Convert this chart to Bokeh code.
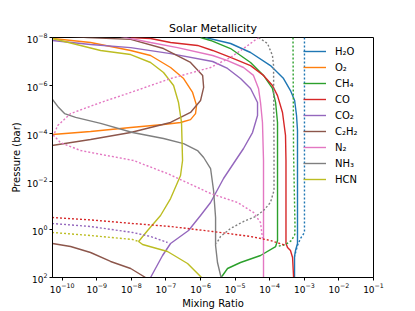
from bokeh.plotting import figure
from bokeh.models import Range1d, FixedTicker, Legend, LegendItem
from bokeh.embed import file_html
from bokeh.resources import INLINE

nan = float("nan")

species = ["H\u2082O", "O\u2082", "CH\u2084", "CO", "CO\u2082", "C\u2082H\u2082", "N\u2082", "NH\u2083", "HCN"]
colors = ["#1f77b4", "#ff7f0e", "#2ca02c", "#d62728", "#9467bd", "#8c564b", "#e377c2", "#7f7f7f", "#bcbd22"]

x_ticks = [1e-10, 1e-9, 1e-8, 1e-7, 1e-6, 1e-5, 1e-4, 1e-3, 1e-2, 1e-1]
y_ticks = [1e-8, 1e-6, 1e-4, 1e-2, 1e0, 1e2]

# ---- solid profiles (mixing ratio, pressure in bar) ----
h2o_x = [1.38e-6, 7.4e-6, 2.79e-5, 1.05e-4, 2.51e-4, 3.98e-4, 5.25e-4, 5.96e-4, 6.35e-4, 6.35e-4, 5.57e-4, 5.21e-4, 5.21e-4]
h2o_p = [1e-8, 1.78e-8, 4.22e-8, 1.48e-7, 5.13e-7, 1.62e-6, 4.22e-6, 1.78e-5, 7.5e-5, 3.83, 7.5, 13.3, 100]

o2_x = [3e-11, 5.25e-11, 6.61e-10, 9.55e-9, 3.59e-8, 1.36e-7, 3.24e-7, 5.89e-7, 7.66e-7, 7.16e-7, 5.13e-7, 2.64e-7, 8.51e-8, 9.55e-9, 6.61e-10, 5.25e-11, 3e-11]
o2_p = [1e-8, 1.10e-8, 1.62e-8, 3.47e-8, 5.62e-8, 1.78e-7, 5.13e-7, 1.95e-6, 6.76e-6, 1.48e-5, 2.63e-5, 3.47e-5, 4.22e-5, 5.62e-5, 8.26e-5, 1.10e-4, 1.17e-4]

ch4_x = [1.0e-6, 1.95e-6, 7.36e-6, 2.79e-5, 6.61e-5, 1.20e-4, 1.48e-4, 1.68e-4, 1.68e-4, 1.48e-4, 5.42e-5, 1.43e-5, 6.03e-6, 4.33e-6, 3.80e-6]
ch4_p = [1e-8, 1.33e-8, 2.88e-8, 1.10e-7, 3.80e-7, 1.33e-6, 5.13e-6, 3.47e-5, 2.87, 5.13, 12.1, 23.7, 42.2, 82.6, 100]

co_x = [9.55e-9, 3.59e-8, 1.36e-7, 8.18e-7, 2.24e-6, 7.36e-6, 2.79e-5, 6.61e-5, 1.20e-4, 1.68e-4, 2.34e-4, 2.86e-4, 2.95e-4, 2.95e-4, 3.27e-4, 3.98e-4, 4.57e-4, 4.90e-4]
co_p = [1e-8, 1.10e-8, 1.62e-8, 2.14e-8, 3.47e-8, 6.76e-8, 1.48e-7, 3.80e-7, 1e-6, 2.63e-6, 1.33e-5, 1.20e-4, 1.33e-3, 3.83, 5.62, 7.5, 14.7, 100]

co2_x = [3e-11, 5.25e-11, 6.61e-10, 9.55e-9, 1.36e-7, 2.24e-6, 6.03e-6, 1.43e-5, 2.79e-5, 4.44e-5, 4.44e-5, 3.18e-5, 1.75e-5, 1.17e-5, 4.62e-6, 1.95e-6, 1.0e-6, 4.50e-7, 1.36e-7, 7.98e-8, 3.59e-8]
co2_p = [1.2e-8, 1.33e-8, 1.95e-8, 2.63e-8, 4.68e-8, 1e-7, 1.95e-7, 5.13e-7, 1.33e-6, 5.13e-6, 1.78e-5, 9.12e-5, 4.22e-4, 1e-3, 7.5e-3, 7.5e-2, 0.261, 1.10, 3.83, 12.1, 100]

c2h2_x = [1.58e-10, 5.37e-10, 9.55e-9, 8.51e-8, 5.13e-7, 1.15e-6, 1.23e-6, 1.0e-6, 5.13e-7, 1.36e-7, 9.55e-9, 6.61e-10, 3e-11,
          nan,
          3e-11, 5.25e-11, 1.75e-10, 6.61e-10, 2.51e-9, 9.55e-9, 2.57e-8]
c2h2_p = [8.91e-9, 1e-8, 1.20e-8, 2.88e-8, 1.10e-7, 3.80e-7, 1.20e-6, 4.22e-6, 1.33e-5, 3.47e-5, 9.12e-5, 1.78e-4, 3.59e-4,
          nan,
          3.4, 3.83, 5.11, 9.08, 21.5, 42.2, 100]

n2_x = [4.90e-9, 3.59e-8, 2.16e-7, 2.24e-6, 6.03e-6, 1.75e-5, 3.39e-5, 4.74e-5, 5.42e-5, 6.17e-5, 6.61e-5, 6.61e-5]
n2_p = [9.12e-9, 1.62e-8, 2.63e-8, 5.62e-8, 9.12e-8, 1.78e-7, 3.80e-7, 1.33e-6, 5.13e-6, 3.47e-5, 1.33e-3, 100]

nh3_x = [3.55e-11, 5.25e-11, 7.94e-11, 1.17e-10, 2.45e-10, 1.29e-9, 1.08e-8, 8.51e-8, 3.24e-7, 8.18e-7, 1.23e-6, 1.95e-6, 2.38e-6, 2.72e-6, 2.72e-6, 3.09e-6, 3.80e-6, 4.07e-6]
nh3_p = [2.51e-6, 3.80e-6, 8.32e-6, 1.48e-5, 2.14e-5, 3.80e-5, 9.12e-5, 1.62e-4, 2.63e-4, 5.13e-4, 1e-3, 2.88e-3, 2.37e-2, 0.316, 4.64, 23.7, 82.6, 100]

hcn_x = [3e-11, 5.25e-11, 1.29e-9, 9.55e-9, 3.59e-8, 8.51e-8, 1.66e-7, 2.31e-7, 2.82e-7, 3.02e-7, 2.64e-7, 1.36e-7, 6.98e-8, 2.95e-8, 1.62e-8, 2.11e-8, 1.11e-7, 4.21e-7, 1.0e-6, 1.07e-6]
hcn_p = [8.91e-9, 1.10e-8, 3.47e-8, 5.13e-8, 1.10e-7, 2.88e-7, 1e-6, 5.13e-6, 3.47e-5, 1.33e-3, 5.62e-3, 5.13e-2, 0.261, 1.10, 3.16, 4.22, 8.26, 26.1, 90.8, 100]

# ---- dotted profiles ----
h2o_dot_x = [1.01e-3, 1.01e-3, 7.76e-4, 6.35e-4, 5.21e-4]
h2o_dot_p = [1e-8, 1.33, 2.37, 4.64, 13.3]

ch4_dot_x = [4.71e-4, 4.88e-4, 5.37e-4, 5.3e-4, 4.27e-4, 2.86e-4, 1.68e-4]
ch4_dot_p = [1e-8, 5.13e-4, 0.68, 1.61, 2.87, 4.22, 5.1]

co_dot_x = [3e-11, 5.25e-11, 6.61e-10, 1.08e-8, 1.36e-7, 2.24e-6, 2.79e-5, 1.05e-4, 2.95e-4]
co_dot_p = [0.30, 0.316, 0.398, 0.562, 0.75, 1.21, 1.95, 2.87, 4.64]

co2_dot_x = [3e-11, 5.25e-11, 6.61e-10, 1.08e-8, 3.59e-8, 1.11e-7]
co2_dot_p = [0.525, 0.562, 0.75, 1.33, 1.95, 3.47]

n2_dot_x = [4.79e-5, 1.75e-5, 7.36e-6, 1.95e-6, 1.36e-7, 9.55e-9, 1.29e-9, 1.75e-10, 7.41e-11, 5.62e-11, 8.91e-11, 3.39e-10, 3.98e-9, 1.15e-8, 1.11e-7, 1.95e-6, 1.17e-5, 3.39e-5, 5.42e-5, 6.17e-5]
n2_dot_p = [1e-8, 2.88e-8, 6.76e-8, 1.78e-7, 5.13e-7, 1.95e-6, 5.13e-6, 1.48e-5, 4.68e-5, 1.20e-4, 2.37e-4, 5.13e-4, 1e-3, 1.33e-3, 4.68e-3, 3.16e-2, 7.5e-2, 0.195, 0.513, 2.37]

nh3_dot_x = [4.79e-5, 8.63e-5, 1.20e-4, 1.29e-4, 1.33e-4, 1.33e-4, 1.05e-4, 6.61e-5, 3.89e-5, 1.75e-5, 7.36e-6, 3.80e-6, 2.88e-6]
nh3_dot_p = [1e-8, 1.78e-8, 5.62e-8, 1.48e-7, 5.13e-4, 2.37e-2, 7.5e-2, 0.162, 0.288, 0.464, 0.908, 1.95, 3.83]

hcn_dot_x = [3e-11, 5.25e-11, 6.61e-10, 1.08e-8, 1.62e-8]
hcn_dot_p = [1.26, 1.33, 1.78, 2.61, 3.16]

solid = [(h2o_x, h2o_p), (o2_x, o2_p), (ch4_x, ch4_p), (co_x, co_p), (co2_x, co2_p),
         (c2h2_x, c2h2_p), (n2_x, n2_p), (nh3_x, nh3_p), (hcn_x, hcn_p)]
dotted = [(h2o_dot_x, h2o_dot_p, 0), (ch4_dot_x, ch4_dot_p, 2), (co_dot_x, co_dot_p, 3),
          (co2_dot_x, co2_dot_p, 4), (n2_dot_x, n2_dot_p, 6), (nh3_dot_x, nh3_dot_p, 7),
          (hcn_dot_x, hcn_dot_p, 8)]

FONT = "DejaVu Sans"

p = figure(width=415, height=311, x_axis_type="log", y_axis_type="log",
           x_range=Range1d(5.25e-11, 1e-1), y_range=Range1d(1e2, 1e-8),
           output_backend="svg", toolbar_location=None, title="Solar Metallicity",
           min_border_left=52, min_border_top=37, min_border_right=42, min_border_bottom=34)

p.title.align = "center"
p.title.text_font = FONT
p.title.text_font_size = "11px"
p.title.text_font_style = "normal"
p.title.text_color = "black"
p.title.standoff = 5

p.grid.visible = False
p.outline_line_color = "black"
p.outline_line_width = 1
p.background_fill_color = "white"
p.border_fill_color = "white"

p.xaxis.ticker = FixedTicker(ticks=x_ticks, minor_ticks=[])
p.yaxis.ticker = FixedTicker(ticks=y_ticks, minor_ticks=[])
p.xaxis.axis_label = "Mixing Ratio"
p.yaxis.axis_label = "Pressure (bar)"
for ax in (p.xaxis, p.yaxis):
    ax.axis_label_text_font = FONT
    ax.axis_label_text_font_size = "10px"
    ax.axis_label_text_font_style = "normal"
    ax.axis_label_text_color = "black"
    ax.axis_label_standoff = 2
    ax.major_label_text_font = FONT
    ax.major_label_text_font_size = "9px"
    ax.major_label_text_color = "black"
    ax.major_label_standoff = 2
    ax.major_tick_in = 0
    ax.major_tick_out = 3
    ax.major_tick_line_color = "black"
    ax.minor_tick_line_color = None
    ax.axis_line_color = "black"

items = []
for i, (xs, ps) in enumerate(solid):
    r = p.line(xs, ps, line_color=colors[i], line_width=1.4)
    items.append(LegendItem(label=species[i], renderers=[r]))

for xs, ps, ci in dotted:
    p.line(xs, ps, line_color=colors[ci], line_width=1.4, line_dash="2 2")

legend = Legend(items=items, location=(251, 90), border_line_color=None,
                background_fill_alpha=0, glyph_width=23, glyph_height=16,
                label_height=16, spacing=0, padding=4, margin=0, label_standoff=9,
                label_text_font=FONT, label_text_font_size="10px",
                label_text_color="black")
p.add_layout(legend)

open("out.html", "w").write(file_html(p, INLINE))
